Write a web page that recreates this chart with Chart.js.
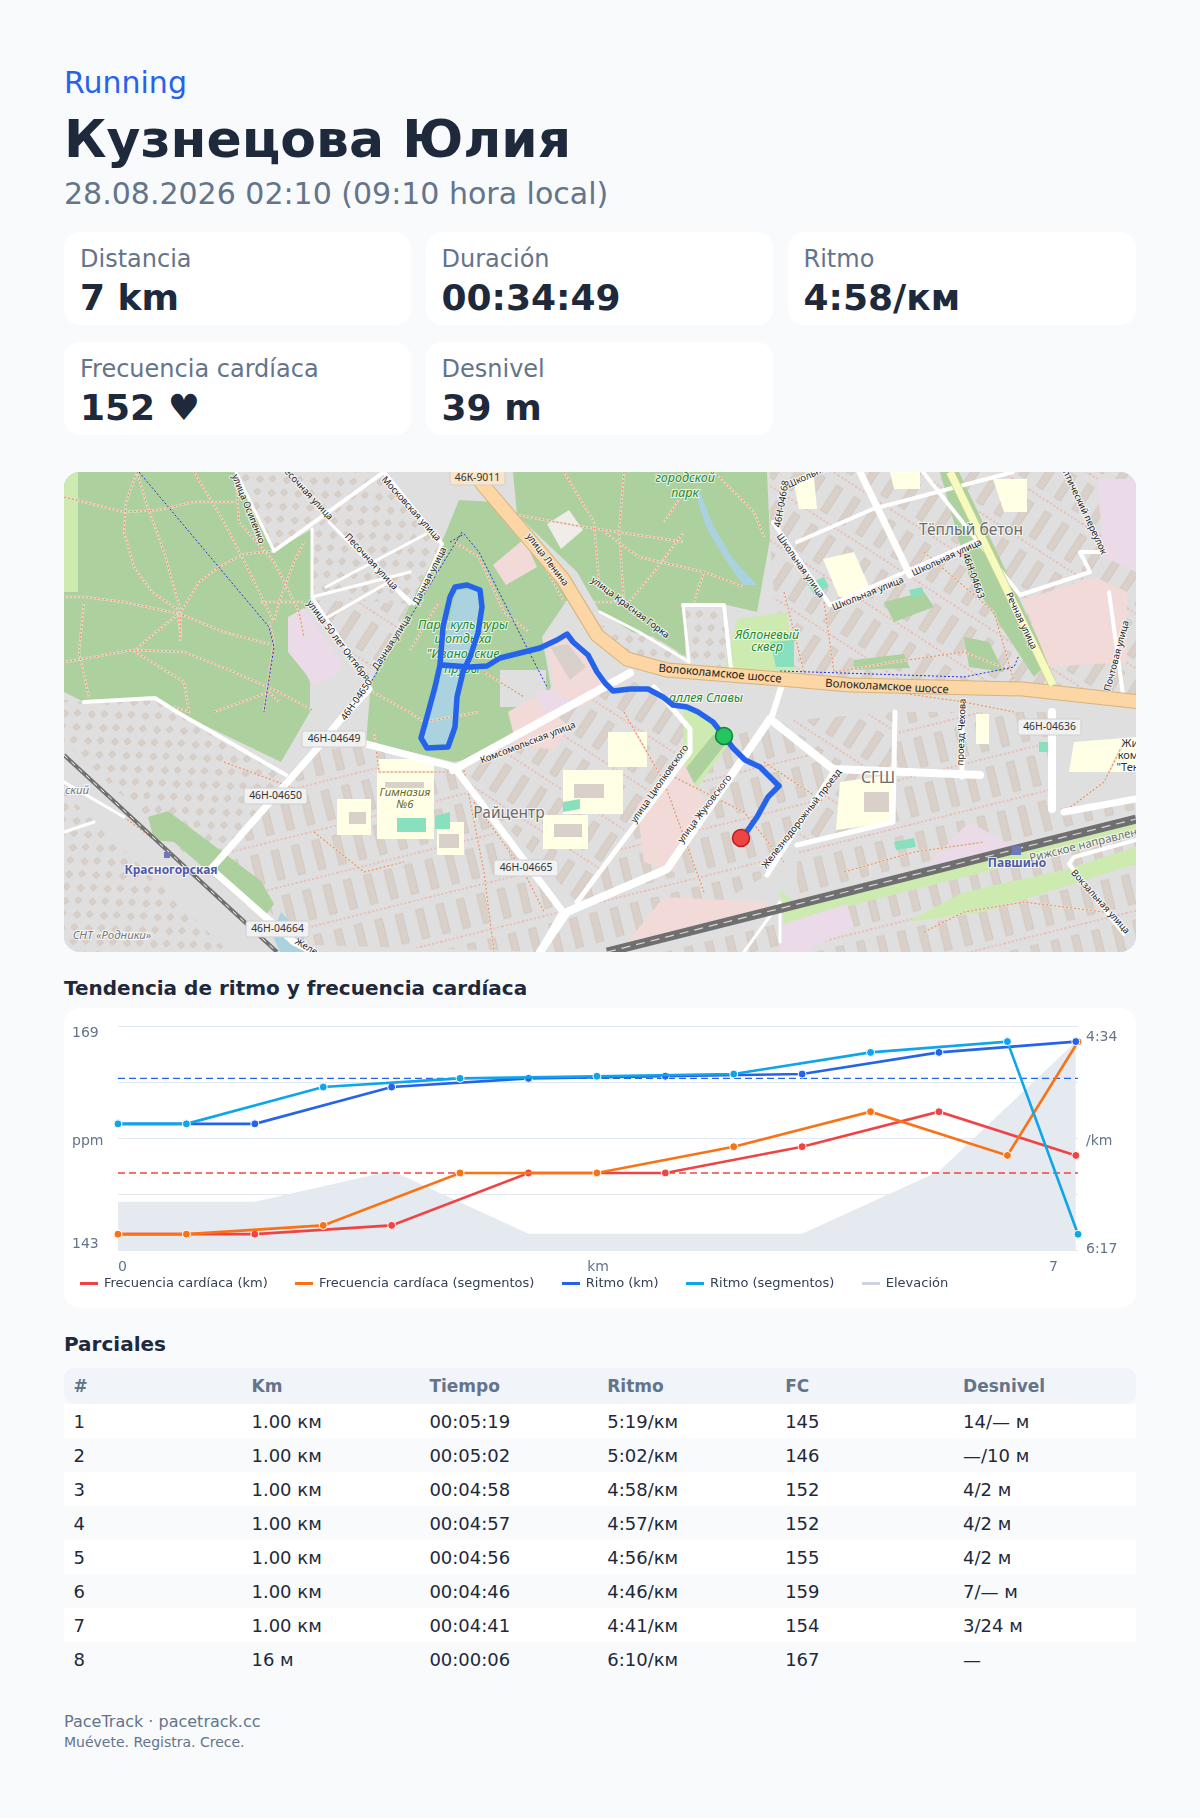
<!DOCTYPE html>
<html lang="es">
<head>
<meta charset="utf-8">
<title>Running</title>
<script src="https://cdn.jsdelivr.net/npm/chart.js@4"></script>
<style>
* { box-sizing: border-box; }
body { margin: 0; background: #f8fafc; color: #1e293b; font-family: "DejaVu Sans", sans-serif; }
.page { width: 1200px; height: 1818px; padding: 64px 64px 0; overflow: hidden; }
.sport { height: 36px; line-height: 37px; font-size: 30px; color: #2563eb; }
h1 { margin: 9px 0 4px; height: 62px; line-height: 60px; font-size: 52px; font-weight: 700; }
.when { height: 36px; line-height: 38px; font-size: 30px; color: #64748b; }
.cards { margin-top: 21px; display: grid; grid-template-columns: 346.5px 347px 348px; column-gap: 15px; row-gap: 17px; }
.card { height: 93px; background: #fff; border-radius: 16px; padding: 12px 16px 0; }
.card .k { height: 30px; line-height: 30px; font-size: 24px; color: #64748b; }
.card .v { margin-top: 3px; height: 42px; line-height: 42px; font-size: 36px; font-weight: 700; }
.map { position: relative; margin-top: 37px; width: 1072px; height: 480px; border-radius: 16px; overflow: hidden; background: #dedddd; }
.map svg, .map canvas { position: absolute; left: 0; top: 0; }
h2 { margin: 23px 0 7px; height: 26px; line-height: 26px; font-size: 20px; font-weight: 700; }
.chart-card { position: relative; width: 1072px; height: 300px; background: #fff; border-radius: 16px; }
.chart-card canvas { position: absolute; left: 0; top: 0; }
.legend { position: absolute; left: 16px; top: 266px; height: 18px; display: flex; gap: 27.4px; font-size: 13px; line-height: 18px; color: #334155; white-space: nowrap; }
.legend span { display: flex; align-items: center; gap: 6px; }
.legend i { display: block; width: 18px; height: 3px; }
h2.second { margin-bottom: 11px; }
table { width: 1072px; border-collapse: separate; border-spacing: 0; table-layout: fixed; font-size: 18px; }
col { width: 177.9px; }
col:last-child { width: auto; }
th { height: 36px; padding: 0 0 0 9.6px; text-align: left; font-size: 17px; color: #64748b; background: #f1f5f9; }
th:first-child { border-radius: 10px 0 0 10px; }
th:last-child { border-radius: 0 10px 10px 0; }
td { height: 34px; padding: 1px 0 0 9.6px; }
tr:nth-child(odd) td { background: #fff; }
footer { margin-top: 36px; color: #64748b; }
footer .a { height: 20px; line-height: 20px; font-size: 16px; }
footer .b { margin-top: 2px; height: 16px; line-height: 16px; font-size: 14px; }
</style>
</head>
<body>
<div class="page">
  <div class="sport">Running</div>
  <h1>Кузнецова Юлия</h1>
  <div class="when">28.08.2026 02:10 (09:10 hora local)</div>
  <div class="cards" id="cards"></div>
  <div class="map">
    <svg id="mapSvg" width="1072" height="480" viewBox="0 0 1072 480"></svg>
    <canvas id="routeChart" width="1072" height="480"></canvas>
  </div>
  <h2>Tendencia de ritmo y frecuencia cardíaca</h2>
  <div class="chart-card">
    <canvas id="trendChart" width="1072" height="300"></canvas>
    <div class="legend" id="legend"></div>
  </div>
  <h2 class="second">Parciales</h2>
  <table id="splits"></table>
  <footer>
    <div class="a">PaceTrack · pacetrack.cc</div>
    <div class="b">Muévete. Registra. Crece.</div>
  </footer>
</div>

<script>
//----------------------
// Data
//----------------------

const statCards = [
  ['Distancia', '7 km'], ['Duración', '00:34:49'], ['Ritmo', '4:58/км'],
  ['Frecuencia cardíaca', '152 ♥'], ['Desnivel', '39 m']
];

const kmX = [0, 1, 2, 3, 4, 5, 6, 7];
const hrKm = [145, 145, 146, 152, 152, 155, 159, 154];
const paceKm = [319, 319, 302, 298, 297, 296, 286, 281]; // seconds per km

const segX = [0, 0.5, 1.5, 2.5, 3.5, 4.5, 5.5, 6.5, 7.016];
const hrSeg = [145, 145, 146, 152, 152, 155, 159, 154, 167];
const paceSeg = [319, 319, 302, 298, 297, 296, 286, 281, 370];

const elevation = [8.7, 8.7, 14.2, 3, 3, 3, 14.1, 37.2];

const avgX = [0, 7.016];
const avgHr = [152, 152];
const avgPace = [298, 298];

const leftLabels = ['169', 'ppm', '143'];
const rightLabels = ['4:34', '/km', '6:17'];
const bottomLabels = ['0', 'km', '7'];

const splitHead = ['#', 'Km', 'Tiempo', 'Ritmo', 'FC', 'Desnivel'];
const splitRows = [
  ['1', '1.00 км', '00:05:19', '5:19/км', '145', '14/— м'],
  ['2', '1.00 км', '00:05:02', '5:02/км', '146', '—/10 м'],
  ['3', '1.00 км', '00:04:58', '4:58/км', '152', '4/2 м'],
  ['4', '1.00 км', '00:04:57', '4:57/км', '152', '4/2 м'],
  ['5', '1.00 км', '00:04:56', '4:56/км', '155', '4/2 м'],
  ['6', '1.00 км', '00:04:46', '4:46/км', '159', '7/— м'],
  ['7', '1.00 км', '00:04:41', '4:41/км', '154', '3/24 м'],
  ['8', '16 м', '00:00:06', '6:10/км', '167', '—']
];

// gps track in map pixels, out to the pond, round it, and back past the start
const routeX = [660, 649, 634, 623, 609, 599, 584, 566, 549, 541, 533, 524, 509, 503, 493, 476, 456, 436, 423, 406, 379, 376, 379, 386, 391, 403, 416, 418, 414, 406, 399, 393, 391, 384, 363, 357, 364, 371, 376, 406, 423, 436, 456, 476, 493, 503, 509, 524, 533, 541, 549, 566, 584, 599, 609, 623, 634, 649, 660, 669, 681, 696, 715, 704, 693, 684, 677];
const routeY = [264, 250, 240, 235, 233, 225, 217, 217, 219, 211, 200, 183, 170, 162, 168, 176, 181, 186, 194, 195, 193, 193, 155, 125, 115, 113, 118, 135, 161, 185, 200, 225, 255, 275, 276, 266, 241, 215, 193, 195, 194, 186, 181, 176, 168, 162, 170, 183, 200, 211, 219, 217, 217, 225, 233, 235, 240, 250, 264, 276, 288, 295, 314, 325, 345, 358, 366];
const routeStart = [660, 264];
const routeEnd = [677, 366];

//----------------------
// Stat cards, table, legend
//----------------------

document.getElementById('cards').innerHTML = statCards
  .map(c => `<div class="card"><div class="k">${c[0]}</div><div class="v">${c[1]}</div></div>`).join('');

document.getElementById('splits').innerHTML =
  '<colgroup>' + splitHead.map(() => '<col>').join('') + '</colgroup>' +
  '<thead><tr>' + splitHead.map(h => `<th>${h}</th>`).join('') + '</tr></thead><tbody>' +
  splitRows.map(r => '<tr>' + r.map(c => `<td>${c}</td>`).join('') + '</tr>').join('') + '</tbody>';

//----------------------
// Base map drawn as svg
//----------------------

const green = '#add19e', pale = '#cdebb0', water = '#aad3df', pink = '#f2dad9', purple = '#ebdbe8', yellow = '#ffffe5', pitch = '#88e0be';

const mapAreas = [
  ['url(#houses)', '172,0 320,0 210,79'],
  ['url(#houses)', '320,0 378,72 346,132 248,125 248,57'],
  ['url(#bars1)', '250,128 303,207 346,132'],
  ['url(#houses)', '0,228 20,230 91,226 113,240 222,303 147,397 130,390 0,270'],
  ['url(#houses)', '0,320 165,480 0,480'],
  ['url(#bars2)', '147,397 250,280 302,272 390,295 499,440 476,480 250,473'],
  ['url(#bars1)', '390,298 566,201 626,257 513,430'],
  ['url(#bars2)', '626,280 706,250 769,300 703,403 640,440 503,480 476,480 513,430'],
  ['url(#bars1)', '706,250 831,240 829,350 733,373 703,403 769,300'],
  ['url(#bars2)', '831,240 988,240 988,337 1072,327 1072,345 829,408 733,432 733,373 829,350'],
  ['url(#bars1)', '706,0 1072,0 1072,230 716,207 706,67'],
  ['url(#bars2)', '1072,362 1072,480 600,480'],
  [green, '0,0 172,0 210,79 248,57 248,125 224,165 246,210 246,240 217,290 113,240 91,226 20,230 0,220'],
  [pale, '0,0 14,0 14,120 0,120'],
  [purple, '224,145 240,136 278,190 272,205 250,212 224,180'],
  [green, '307,210 380,65 395,28 430,30 505,125 478,165 487,215 470,245 415,285 390,290 302,270'],
  [green, '449,0 703,0 706,67 693,140 663,133 619,133 626,187 573,163 536,140 513,100 453,43'],
  [green, '876,0 895,0 985,190 970,205 905,105'],
  [green, '790,188 840,182 846,196 790,198'],
  [green, '820,130 860,120 870,135 830,150'],
  [green, '900,165 925,170 940,200 905,195'],
  ['#e0dfdf', '436,198 482,198 482,235 436,235'],
  [pink, '444,240 470,225 506,255 490,278 452,272'],
  [purple, '470,218 506,218 506,240 482,244'],
  [pink, '482,165 505,165 545,215 520,235 490,220'],
  ['#d9d0c9', '486,175 504,172 522,195 506,208'],
  [pink, '429,93 460,67 473,95 442,113'],
  ['#f0ece8', '483,52 505,38 519,58 497,77'],
  ['url(#houses)', '619,133 663,133 667,197 622,190'],
  ['url(#houses)', '536,153 590,165 626,187 622,195 566,190'],
  [pale, '673,147 723,140 730,200 716,207 660,197'],
  [pale, '620,232 660,255 672,262 626,325 610,310 619,290'],
  [green, '649,263 663,270 626,317 613,320 619,300'],
  [water, '633,13 649,53 669,87 693,113 679,113 663,90 643,57 633,27'],
  [water, '393,118 414,118 416,135 408,178 396,201 389,248 386,271 363,273 359,265 366,238 376,195 383,161 389,131'],
  [water, '217,440 240,465 240,480 216,480 208,462'],
  [green, '84,345 104,339 197,409 210,432 200,445 181,432 110,370 90,368'],
  [yellow, '313,287 370,287 370,367 313,367'],
  [yellow, '273,327 307,327 307,363 273,363'],
  [yellow, '373,350 400,350 400,383 373,383'],
  [yellow, '499,298 559,298 559,342 499,342'],
  [yellow, '479,343 524,343 524,377 479,377'],
  [yellow, '544,260 583,260 583,295 544,295'],
  [yellow, '759,87 790,80 809,123 775,125'],
  [yellow, '929,7 963,7 963,40 940,40'],
  [yellow, '826,0 856,0 856,17 830,17'],
  [yellow, '729,7 750,5 753,37 735,37'],
  [yellow, '776,310 832,302 830,350 772,358'],
  [yellow, '912,242 925,242 925,272 912,272'],
  [yellow, '1010,270 1072,265 1072,300 1005,300'],
  [pink, '959,128 1030,105 1063,120 1063,190 985,195'],
  [purple, '1033,7 1072,7 1072,100 1040,85'],
  [pink, '573,333 619,290 640,330 610,400 580,390'],
  [pink, '555,480 600,425 700,430 720,440 560,480'],
  [pale, '716,418 733,432 829,408 1072,345 1072,362 800,430 720,452'],
  [pale, '843,450 900,420 1000,398 1072,375 1072,392 920,440'],
  [purple, '716,453 783,432 790,455 740,480 716,480'],
  [purple, '905,350 960,380 1000,362 900,392 855,402'],
  [pitch, '371,344 386,340 386,357 371,357'],
  [pitch, '333,346 362,346 362,360 333,360'],
  [pitch, '499,330 516,327 516,337 499,340'],
  [pitch, '830,370 850,366 852,375 832,378'],
  [pitch, '975,270 990,270 990,280 975,280'],
  [pitch, '743,112 760,105 765,115 750,122'],
  [pitch, '706,170 730,168 730,195 712,195'],
  [pitch, '845,118 858,115 860,122 848,126'],
  ['#d9d0c9', '321,310 360,310 360,316 321,316'],
  ['#d9d0c9', '285,340 302,340 302,352 285,352'],
  ['#d9d0c9', '510,312 540,312 540,326 510,326'],
  ['#d9d0c9', '490,352 518,352 518,365 490,365'],
  ['#d9d0c9', '375,362 395,362 395,376 375,376'],
  ['#d9d0c9', '800,320 825,320 825,340 800,340']
];

// white streets [width, points]
const mapRoads = [
  [4, '210,79 320,0'], [3, '248,57 248,125 303,207 305,217'], [3, '248,125 346,100'], [3, '262,115 362,62'], [3, '264,145 325,110 350,132 378,72'],
  [3, '265,50 346,132'], [3, '172,0 210,79'], [4, '320,0 378,72'],
  [4, '20,230 91,226 113,240 222,303'], [7, '305,217 277,247 250,280 147,397'], [7, '147,397 230,470 250,480'],
  [7, '302,272 390,295 499,440 476,480'], [8, '389,298 566,201'], [5, '513,430 626,280 626,257 590,215'],
  [8, '476,480 503,440 603,397 706,247'], [6, '706,250 720,207'], [8, '706,247 769,297 916,303'], [5, '703,403 769,300'],
  [5, '831,240 829,350 733,373'], [5, '898,240 898,305'], [8, '988,240 988,337'], [7, '1072,327 1000,340'],
  [4, '709,50 766,133 916,67'], [4, '733,70 809,37 949,0'], [7, '796,0 846,103'], [4, '859,0 956,123 1026,100 1016,80 1036,80'],
  [4, '619,133 660,133 667,197'], [3, '619,133 625,190'], [3, '536,140 575,160 625,190'], [4, '1045,120 1060,230'],
  [3, '680,480 716,430 716,470'], [4, '1072,368 1010,385 1005,392 1060,462'], [3, '0,360 30,350'], [3, '0,310 60,345']
];

const forestPaths = [
  '0,25 20,30 60,40 95,38 130,30 172,30', '73,0 62,30 60,60 70,95 88,120 113,137 117,165', '73,0 82,30 100,80 117,140 116,170',
  '130,0 160,50 183,95 210,150', '172,5 175,50 210,90 235,140 240,165', '210,79 180,82 155,95 135,110 117,140 80,170 70,180',
  '0,125 20,125 60,130 116,142 160,160 205,172', '20,130 15,180 25,225', '0,190 30,185 68,178 120,180 165,198 215,220 248,238',
  '68,178 120,210 125,240 110,235', '195,130 240,130', '210,150 215,130 230,90 240,70', '200,240 210,170 205,150',
  '150,240 205,220 215,230', '453,43 520,55 620,70', '500,0 530,50 535,110', '560,0 555,60 560,130', '620,60 590,100 565,130 530,130',
  '575,85 640,100 680,115', '640,100 630,130', '650,0 690,40 700,65', '540,60 575,85', '620,20 600,50', '430,30 470,75 500,130',
  '390,70 415,85 440,140 465,160', '345,180 375,130', '420,200 460,225', '300,215 345,240 360,250 415,240', '100,375 80,360 60,345',
  '400,298 420,400 430,480', '560,240 600,310 640,420', '720,120 740,200', '760,130 770,200 830,190 900,180 950,200', '830,220 900,230 950,240',
  '1000,340 1040,310 1060,270', '780,400 850,380 920,370', '860,460 900,440 960,430 1040,440', '600,300 680,340 720,390', '160,290 240,320', '310,260 315,300 400,300', '250,360 300,400 340,390', '410,330 460,400 480,440', '700,290 760,330', '860,80 930,140 950,210'
];
const bluePaths = ['75,0 205,155 210,175 200,240', '398,60 307,210', '386,70 400,62 415,80 440,130 460,170 483,215', '716,199 900,205 950,195 955,183'];

// [x, y, angle, text, style]
const mapLabels = [
  [184, 37, 68, 'улица Осипенко'], [242, 20, 47, 'Песочная улица'], [307, 90, 47, 'Песочная улица'], [347, 37, 48, 'Московская улица'],
  [366, 104, -63, 'Дачная улица'], [328, 171, -57, 'Дачная улица'], [274, 169, 53, 'улица 50 лет Октября'], [293, 228, -55, '46Н-04650'],
  [399, 154, 0, 'Парк культуры', 'park'], [399, 168, 0, 'и отдыха', 'park'], [399, 183, 0, '"Ивановские', 'park'], [398, 198, 0, 'пруды', 'park'],
  [621, 7, 0, 'городской', 'park'], [621, 22, 0, 'парк', 'park'], [483, 88, 53, 'улица Ленина'], [566, 136, 37, 'улица Красная Горка'],
  [656, 202, 5, 'Волоколамское шоссе', 'road'], [823, 215, 3, 'Волоколамское шоссе', 'road'], [642, 227, 0, 'аллея Славы', 'park'],
  [703, 164, 0, 'Яблоневый', 'park'], [703, 176, 0, 'сквер', 'park'], [736, 94, 55, 'Школьная улица'], [804, 122, -22, 'Школьная улица'],
  [883, 86, -25, 'Школьная улица'], [745, 4, -25, 'Школьная'], [718, 32, -80, '46Н-04668'], [909, 104, 70, '46Н-04663'],
  [907, 59, 0, 'Тёплый бетон', 'place'], [957, 149, 65, 'Речная улица'], [1019, 37, 65, 'Оптический переулок'], [1053, 184, -75, 'Почтовая улица'],
  [898, 260, -88, 'проезд Чехова'], [464, 271, -21, 'Комсомольская улица'], [596, 312, -55, 'улица Циолковского'], [641, 337, -53, 'улица Жуковского'],
  [738, 347, -52, 'Железнодорожный проезд'], [814, 307, 0, 'СГШ', 'place'], [445, 342, 0, 'Райцентр', 'place'], [341, 321, 0, 'Гимназия', 'school'],
  [341, 333, 0, '№6', 'school'], [107, 399, 0, 'Красногорская', 'station'], [953, 392, 0, 'Павшино', 'station'], [1026, 372, -14, 'Рижское направление', 'rail'],
  [1036, 430, 48, 'Вокзальная улица'], [48, 464, 0, 'СНТ «Родники»', 'snt'], [242, 475, 30, 'Желе'], [13, 319, 0, 'ский', 'snt'],
  [1066, 272, 0, 'Жи', 'dark'], [1064, 284, 0, 'ком', 'dark'], [1064, 296, 0, '"Тен', 'dark']
];

// [x, y, width, text]
const mapShields = [
  [386, 0, 55, '46К-9011'], [238, 259, 64, '46Н-04649'], [180, 316, 63, '46Н-04650'], [182, 449, 63, '46Н-04664'], [430, 388, 64, '46Н-04665'], [954, 247, 63, '46Н-04636']
];

function buildMap() {
  const labelStyle = {
    park: 'font-size:12.5px;font-style:italic;fill:#1f8a2c', place: 'font-size:15.5px;fill:#6b6b6b', school: 'font-size:11.5px;font-style:italic;fill:#6a6a22',
    station: 'font-size:12px;font-weight:700;fill:#4f5aa8', rail: 'font-size:11.5px;fill:#6f6f6f', snt: 'font-size:11.5px;font-style:italic;fill:#777',
    road: 'font-size:11.4px;fill:#222', dark: 'font-size:11px;fill:#333'
  };
  let s = `<defs>
    <pattern id="houses" width="20" height="18" patternUnits="userSpaceOnUse" patternTransform="rotate(-40)">
      <rect width="20" height="18" fill="#e0dfdf"/><rect x="3" y="3" width="5" height="5" fill="#d9d0c9" stroke="#c9bfb6" stroke-width=".6"/><rect x="13" y="11" width="5" height="4.5" fill="#d9d0c9" stroke="#c9bfb6" stroke-width=".6"/>
    </pattern>
    <pattern id="bars1" width="21" height="46" patternUnits="userSpaceOnUse" patternTransform="rotate(33)">
      <rect width="21" height="46" fill="#e0dfdf"/><rect x="4" y="4" width="7.5" height="30" fill="#d9d0c9" stroke="#c9bfb6" stroke-width=".6"/><path d="M0 41H21" stroke="#f3a093" stroke-width="1" stroke-dasharray="2 2" fill="none"/>
    </pattern>
    <pattern id="bars2" width="21" height="46" patternUnits="userSpaceOnUse" patternTransform="rotate(-14)">
      <rect width="21" height="46" fill="#e0dfdf"/><rect x="4" y="4" width="7.5" height="30" fill="#d9d0c9" stroke="#c9bfb6" stroke-width=".6"/><path d="M0 41H21" stroke="#f3a093" stroke-width="1" stroke-dasharray="2 2" fill="none"/>
    </pattern>
  </defs><rect width="1072" height="480" fill="#e0dfdf"/>`;
  mapAreas.forEach(a => { s += `<polygon points="${a[1]}" fill="${a[0]}"/>`; });
  forestPaths.forEach(p => {
    s += `<polyline points="${p}" fill="none" stroke="#dfe6cf" stroke-width="2.4" opacity=".7"/>`;
    s += `<polyline points="${p}" fill="none" stroke="#f58a7c" stroke-width="1.2" stroke-dasharray="2 2"/>`;
  });
  bluePaths.forEach(p => { s += `<polyline points="${p}" fill="none" stroke="#2a2ae0" stroke-width="1" stroke-dasharray="2 2"/>`; });
  mapRoads.forEach(r => { s += `<polyline points="${r[1]}" fill="none" stroke="#fff" stroke-width="${r[0]}" stroke-linejoin="round" stroke-linecap="round"/>`; });
  // trunk roads and railways
  const trunk = '410,0 419,13 459,60 499,107 533,163 563,187 603,198 716,207 786,213 959,217 1076,230';
  s += `<polyline points="${trunk}" fill="none" stroke="#d8b27a" stroke-width="15"/><polyline points="${trunk}" fill="none" stroke="#fcd6a4" stroke-width="13"/>`;
  s += '<polyline points="886,0 989,213" fill="none" stroke="#c9cf8a" stroke-width="9"/><polyline points="886,0 989,213" fill="none" stroke="#f7fabf" stroke-width="7.5"/>';
  s += '<polyline points="0,283 213,480" fill="none" stroke="#707070" stroke-width="4"/><polyline points="0,283 213,480" fill="none" stroke="#fff" stroke-width="1" stroke-dasharray="5 5"/>';
  s += '<polyline points="543,480 1072,347" fill="none" stroke="#6f6f6f" stroke-width="9"/><polyline points="543,480 1072,347" fill="none" stroke="#d8d8d8" stroke-width="1.2" stroke-dasharray="9 6"/>';
  s += '<rect x="100" y="380" width="6" height="6" fill="#6f78b8"/><rect x="948" y="374" width="9" height="9" fill="#6f78b8"/>';
  mapLabels.forEach(l => {
    const st = labelStyle[l[4]] || 'font-size:9.4px;fill:#222';
    const halo = l[4] === 'road' ? '' : 'paint-order:stroke;stroke:rgba(255,255,255,.75);stroke-width:2px;';
    s += `<text x="0" y="0" transform="translate(${l[0]} ${l[1]}) rotate(${l[2]})" text-anchor="middle" dominant-baseline="middle" style="font-family:'Noto Sans';${halo}${st}">${l[3]}</text>`;
  });
  mapShields.forEach(b => {
    const fill = b[3] === '46К-9011' ? '#fbe4c8' : '#f1f1f1';
    s += `<rect x="${b[0]}" y="${b[1] - (b[1] === 0 ? 4 : 0)}" width="${b[2]}" height="${b[1] === 0 ? 17 : 16}" rx="2.5" fill="${fill}" stroke="#cfcfcf"/>`;
    s += `<text x="${b[0] + b[2] / 2}" y="${b[1] + (b[1] === 0 ? 6.5 : 8)}" text-anchor="middle" dominant-baseline="middle" style="font-family:'Noto Sans';font-size:10.4px;fill:#333">${b[3]}</text>`;
  });
  document.getElementById('mapSvg').innerHTML = s;
}
buildMap();

//----------------------
// Route over the map
//----------------------

new Chart(document.getElementById('routeChart'), {
  type: 'scatter',
  data: {
    datasets: [
      { data: [{ x: routeEnd[0], y: routeEnd[1] }], pointRadius: 8.5, pointBorderWidth: 1.5, pointBackgroundColor: '#ef4444', pointBorderColor: '#b91c1c', order: 1 },
      { data: [{ x: routeStart[0], y: routeStart[1] }], pointRadius: 8.5, pointBorderWidth: 1.5, pointBackgroundColor: '#22c55e', pointBorderColor: '#15803d', order: 2 },
      { data: routeX.map((x, i) => ({ x: x, y: routeY[i] })), showLine: true, pointRadius: 0, borderColor: '#2563eb', borderWidth: 5.5, borderJoinStyle: 'round', borderCapStyle: 'round', order: 3 }
    ]
  },
  options: {
    responsive: false, animation: false, layout: { padding: 0, autoPadding: false },
    plugins: { legend: { display: false }, tooltip: { enabled: false } },
    scales: {
      x: { display: false, min: 0, max: 1072 },
      y: { display: false, min: 0, max: 480, reverse: true }
    }
  }
});

//----------------------
// Pace and heart rate chart
//----------------------

const points = (xs, ys) => xs.map((x, i) => ({ x: x, y: ys[i] }));

function lineSet(label, xs, ys, color, axis, order) {
  return {
    label: label, data: points(xs, ys), yAxisID: axis, order: order, clip: false,
    borderColor: color, borderWidth: 2.6, pointRadius: 4, pointBorderWidth: 1, pointBorderColor: '#fff', pointBackgroundColor: color
  };
}

function avgSet(ys, color, axis) {
  return {
    data: points(avgX, ys), yAxisID: axis, order: 5, borderColor: color, borderWidth: 1.4,
    borderDash: [7, 4], pointRadius: 0
  };
}

const axisText = {
  id: 'axisText',
  afterDraw(chart) {
    const c = chart.ctx, a = chart.chartArea;
    const midY = (a.top + a.bottom) / 2;
    c.save();
    c.font = '14px "DejaVu Sans"';
    c.fillStyle = '#64748b';
    c.textBaseline = 'middle';
    c.textAlign = 'left';
    [a.top + 7, midY + 3, a.bottom - 6].forEach((y, i) => c.fillText(leftLabels[i], a.left - 46, y));
    [a.top + 11, midY + 3, a.bottom - 1].forEach((y, i) => c.fillText(rightLabels[i], a.right + 8, y));
    c.fillText(bottomLabels[0], a.left, a.bottom + 17);
    c.textAlign = 'center';
    c.fillText(bottomLabels[1], (a.left + a.right) / 2, a.bottom + 17);
    c.textAlign = 'right';
    c.fillText(bottomLabels[2], a.right - 20, a.bottom + 17);
    c.restore();
  }
};

const trend = new Chart(document.getElementById('trendChart'), {
  type: 'line',
  data: {
    datasets: [
      lineSet('Frecuencia cardíaca (km)', kmX, hrKm, '#ef4444', 'y', 4),
      lineSet('Frecuencia cardíaca (segmentos)', segX, hrSeg, '#f97316', 'y', 3),
      lineSet('Ritmo (km)', kmX, paceKm, '#2563eb', 'pace', 2),
      lineSet('Ritmo (segmentos)', segX, paceSeg, '#0ea5e9', 'pace', 1),
      { label: 'Elevación', data: points(kmX, elevation), yAxisID: 'elev', order: 7, fill: 'origin', backgroundColor: '#e5e9f0', borderWidth: 0, pointRadius: 0 },
      avgSet(avgHr, '#ef4444', 'y'),
      avgSet(avgPace, '#2563eb', 'pace')
    ]
  },
  options: {
    responsive: false, animation: false,
    layout: { padding: { left: 54, right: 58, top: 18, bottom: 57.5 } },
    plugins: { legend: { display: false }, tooltip: { enabled: false } },
    scales: {
      x: { type: 'linear', display: false, min: 0, max: 7.016 },
      y: {
        min: 143.13, max: 168.8, grid: { color: '#e2e8f0', drawTicks: false }, border: { display: false },
        ticks: { display: false, count: 5 }
      },
      pace: { display: false, min: 273.8, max: 377.5, reverse: true },
      elev: { display: false, min: 0, max: 40 }
    }
  },
  plugins: [axisText]
});

// legend follows the named datasets; elevation swatch is a shade darker than its fill
document.getElementById('legend').innerHTML = trend.data.datasets
  .filter(d => d.label)
  .map(d => `<span><i style="background:${d.label === 'Elevación' ? '#cbd5e1' : d.borderColor}"></i>${d.label}</span>`)
  .join('');
</script>
</body>
</html>
